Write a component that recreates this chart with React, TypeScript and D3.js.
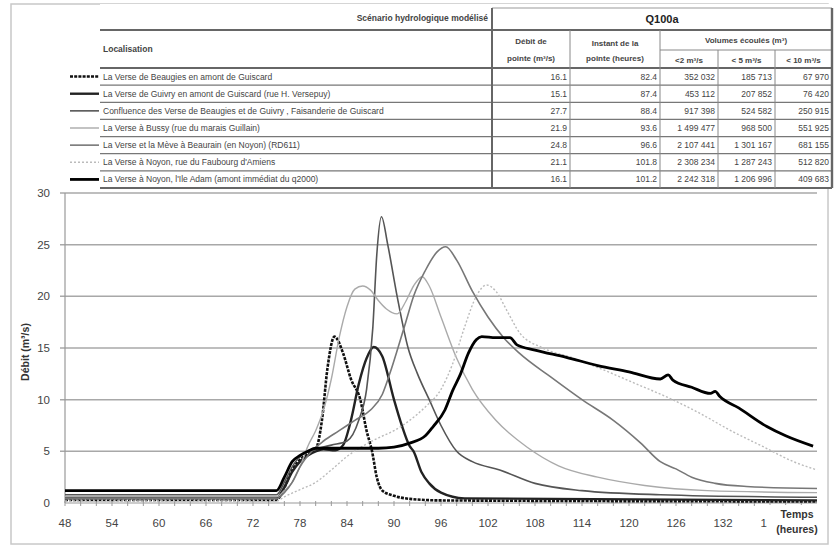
import React, { useEffect, useRef } from 'react';
import * as d3 from 'd3';

type Pt = [number, number];

// series (hours, m3/s)
const beaugies: Pt[] = [[48,0.3],[75,0.3],[76,1.5],[77,3.2],[78,4.2],[79,4.8],[80,5.2],[80.8,8],[81.5,13],[82.4,16.1],[83.5,14.5],[84.5,12],[85.7,10],[86.5,7],[87.2,5],[87.8,2.5],[88.5,1.2],[90,0.7],[92,0.4],[96,0.25],[144,0.15]];
const guivry: Pt[] = [[48,0.5],[75,0.5],[76,1.5],[77,3],[78,4],[79,4.6],[80,5],[81,5.2],[82.5,5.1],[83.5,5.6],[84.5,8],[85.5,11.5],[86.5,14],[87.4,15.1],[88.5,14.2],[90,10],[91,7.5],[92,5.5],[92.5,5],[93.5,3],[94.5,1.9],[96,1],[99,0.45],[144,0.25]];
const confluence: Pt[] = [[48,0.8],[75,0.8],[76,2],[77,3.5],[78,4.5],[80,5.2],[82,5.6],[84,6],[85.5,8],[86.5,11],[87.3,17],[87.8,24],[88.4,27.7],[89.2,25],[90.4,20],[91.8,15],[93,12.5],[94.5,10],[96,7.5],[98,5],[100,4],[103.5,3.2],[108,1.9],[114,1.2],[124,0.8],[144,0.55]];
const bussy: Pt[] = [[48,0.6],[75,0.6],[76,1.2],[77,2],[78,3.5],[79,5.5],[80,7],[81,9],[82,12],[83,16],[84,19],[85,20.7],[86,21],[87,20.6],[88,19.6],[89,18.8],[90.4,18.3],[91.5,19.5],[92.5,21],[93.6,21.9],[94.5,21],[96,18],[98,14],[100,11],[103,8],[107,5.4],[111,3.6],[116,2.5],[122,1.7],[130,1.2],[144,1]];
const beaurain: Pt[] = [[48,0.4],[75,0.4],[76,1],[77,2],[78,3.5],[79.5,5],[81,6],[83,7],[85,8],[87,9],[88.5,10.5],[89.5,12.6],[90.5,15],[91.5,17.5],[92.5,20],[94,22.5],[95.5,24.3],[96.6,24.8],[98,23.5],[100,20.5],[102,18],[104,16],[106,14.5],[110,12.2],[114,10],[118,8],[121.5,5.8],[124,4],[126,3.3],[128,2.5],[131,1.9],[135,1.6],[144,1.4]];
const faubourg: Pt[] = [[48,0.2],[75,0.2],[76,0.6],[78,1.3],[80,2],[82,3.2],[84,4.5],[86,5.5],[88,6.3],[90,7],[92,8],[94,9.3],[96,11],[97.5,13.5],[99,17],[100.5,20],[101.8,21.1],[103,20.5],[104.5,18.5],[106,16.5],[109,15],[113,14],[117,12.8],[121,11.5],[125,10.2],[129,8.7],[133,7],[137,5.5],[141,4],[144,3.2]];
const ileAdam: Pt[] = [[48,1.2],[75,1.2],[76,2.5],[77,4],[78,4.6],[79,5],[80,5.3],[84,5.3],[88,5.3],[90,5.4],[92,5.8],[94,6.5],[95,7.4],[96.5,9],[97.5,10.9],[98.5,12.5],[99.5,14.5],[100.5,15.8],[101.2,16.1],[103,16],[104.8,16],[105.7,15.3],[108,14.8],[112,14.1],[116,13.3],[120,12.7],[124,12],[125,12.4],[125.6,11.9],[128,11.2],[130.4,10.6],[131,10.8],[131.6,10.3],[134,9.2],[137.6,7.4],[140,6.5],[143.5,5.5]];

const locations = [
  'La Verse de Beaugies en amont de Guiscard',
  'La Verse de Guivry en amont de Guiscard (rue H. Versepuy)',
  'Confluence des Verse de Beaugies et de Guivry , Faisanderie de Guiscard',
  'La Verse à Bussy (rue du marais Guillain)',
  'La Verse et la Mève à Beaurain (en Noyon) (RD611)',
  "La Verse à Noyon, rue du Faubourg d'Amiens",
  "La Verse à Noyon, l'Ile Adam (amont immédiat du q2000)",
];
const peakFlow = ['16.1', '15.1', '27.7', '21.9', '24.8', '21.1', '16.1'];
const peakTime = ['82.4', '87.4', '88.4', '93.6', '96.6', '101.8', '101.2'];
const vol2 = ['352 032', '453 112', '917 398', '1 499 477', '2 107 441', '2 308 234', '2 242 318'];
const vol5 = ['185 713', '207 852', '524 582', '968 500', '1 301 167', '1 287 243', '1 206 996'];
const vol10 = ['67 970', '76 420', '250 915', '551 925', '681 155', '512 820', '409 683'];

const seriesData = [beaugies, guivry, confluence, bussy, beaurain, faubourg, ileAdam];
const xTicks = d3.range(48, 139, 6);
const yTicks = [0, 5, 10, 15, 20, 25, 30];

const styles = [
  { color: '#111', width: 2.6, dash: '3,1.2' },
  { color: '#222', width: 2.4, dash: '' },
  { color: '#555', width: 1.6, dash: '' },
  { color: '#aaa', width: 1.4, dash: '' },
  { color: '#777', width: 1.6, dash: '' },
  { color: '#bbb', width: 1.4, dash: '2,2' },
  { color: '#000', width: 2.8, dash: '' },
];

export default function App() {
  const svgRef = useRef<SVGSVGElement>(null);

  useEffect(() => {
    if (!svgRef.current) return;
    const svg = d3.select(svgRef.current);
    svg.selectAll('*').remove();
    const font = '"Liberation Sans", Arial, sans-serif';

    // outer frame
    svg.append('rect')
      .attr('x', 11).attr('y', 4).attr('width', 817).attr('height', 540)
      .attr('fill', '#fff').attr('stroke', '#c8c8c8').attr('stroke-width', 1.5);

    const x = d3.scaleLinear().domain([48, 144]).range([65, 817]);
    const y = d3.scaleLinear().domain([0, 30]).range([503, 193]);

    // grid
    svg.append('g').selectAll('line').data(yTicks.slice(1)).join('line')
      .attr('x1', 60).attr('x2', 817)
      .attr('y1', d => y(d)).attr('y2', d => y(d))
      .attr('stroke', '#a8a8a8').attr('stroke-width', 1.5);

    // axes
    svg.append('line').attr('x1', x(48)).attr('x2', x(48)).attr('y1', y(30)).attr('y2', y(0))
      .attr('stroke', '#999').attr('stroke-width', 1.2);
    svg.append('line').attr('x1', x(48)).attr('x2', 817).attr('y1', y(0)).attr('y2', y(0))
      .attr('stroke', '#999').attr('stroke-width', 1.2);
    svg.append('g').selectAll('line').data(d3.range(48, 144, 2)).join('line')
      .attr('x1', d => x(d)).attr('x2', d => x(d))
      .attr('y1', y(0) - 2).attr('y2', y(0) + 3)
      .attr('stroke', '#999').attr('stroke-width', 1);

    svg.append('g').selectAll('text').data(yTicks).join('text')
      .attr('x', 50).attr('y', d => y(d) + 4)
      .attr('text-anchor', 'end').attr('font-family', font).attr('font-size', 11.5)
      .attr('fill', '#444').text(d => d);

    svg.append('g').selectAll('text').data(xTicks).join('text')
      .attr('x', d => x(d)).attr('y', 527)
      .attr('text-anchor', 'middle').attr('font-family', font).attr('font-size', 11.5)
      .attr('fill', '#444').text(d => d);

    // series
    const line = d3.line<Pt>()
      .x(d => x(d[0]))
      .y(d => y(d[1]))
      .curve(d3.curveMonotoneX);
    seriesData.forEach((s, i) => {
      svg.append('path')
        .datum(s)
        .attr('fill', 'none')
        .attr('stroke', styles[i].color)
        .attr('stroke-width', styles[i].width)
        .attr('stroke-dasharray', styles[i].dash || null)
        .attr('stroke-linejoin', 'round')
        .attr('d', line);
    });

    // axis titles
    svg.append('text')
      .attr('transform', 'translate(29,352) rotate(-90)')
      .attr('text-anchor', 'middle').attr('font-family', font).attr('font-size', 10.5)
      .attr('font-weight', 'bold').attr('fill', '#333')
      .text('Débit (m³/s)');
    svg.append('rect').attr('x', 767).attr('y', 505).attr('width', 56).attr('height', 34).attr('fill', '#fff');
    const tt = svg.append('text').attr('font-family', font).attr('font-size', 10.5)
      .attr('font-weight', 'bold').attr('fill', '#333').attr('text-anchor', 'middle');
    tt.append('tspan').attr('x', 797).attr('y', 518).text('Temps');
    tt.append('tspan').attr('x', 797).attr('y', 533).text('(heures)');

    // table
    const tbl = svg.append('g').attr('font-family', font).attr('fill', '#444');
    tbl.append('rect').attr('x', 100).attr('y', 4).attr('width', 732).attr('height', 184).attr('fill', '#fff');
    const cols = [100, 492, 570, 660, 718, 775, 832];
    const rowTop = 68;
    const rowH = (188 - 68) / 7;
    const ln = (x1: number, y1: number, x2: number, y2: number, w: number, c = '#666') =>
      tbl.append('line').attr('x1', x1).attr('y1', y1).attr('x2', x2).attr('y2', y2)
        .attr('stroke', c).attr('stroke-width', w);

    ln(100, 30, 832, 30, 2.2);
    ln(100, 68, 832, 68, 2.2);
    ln(100, 188, 832, 188, 2.2);
    ln(492, 8, 832, 8, 1, '#999');
    ln(660, 50, 832, 50, 1, '#888');
    for (let i = 1; i < 7; i++) ln(100, rowTop + i * rowH, 832, rowTop + i * rowH, 1.2, '#777');
    ln(492, 8, 492, 188, 2);
    ln(832, 8, 832, 188, 2.4);
    [570, 660].forEach(c => ln(c, 30, c, 188, 1, '#888'));
    [718, 775].forEach(c => ln(c, 50, c, 188, 1, '#888'));

    tbl.append('text').attr('x', 488).attr('y', 21).attr('text-anchor', 'end')
      .attr('font-size', 8.5).attr('font-weight', 'bold').text('Scénario hydrologique modélisé');
    tbl.append('text').attr('x', 662).attr('y', 23).attr('text-anchor', 'middle')
      .attr('font-size', 11).attr('font-weight', 'bold').attr('fill', '#222').text('Q100a');
    tbl.append('text').attr('x', 103).attr('y', 52).attr('font-size', 8.5).attr('font-weight', 'bold').text('Localisation');

    const hdr = (cx: number, yy: number, t: string) =>
      tbl.append('text').attr('x', cx).attr('y', yy).attr('text-anchor', 'middle')
        .attr('font-size', 8).attr('font-weight', 'bold').text(t);
    hdr((492 + 570) / 2, 44, 'Débit de');
    hdr((492 + 570) / 2, 61, 'pointe (m³/s)');
    hdr((570 + 660) / 2, 46, 'Instant de la');
    hdr((570 + 660) / 2, 61, 'pointe (heures)');
    hdr((660 + 832) / 2, 43, 'Volumes écoulés (m³)');
    hdr((660 + 718) / 2, 63, '<2 m³/s');
    hdr((718 + 775) / 2, 63, '< 5 m³/s');
    hdr((775 + 832) / 2, 63, '< 10 m³/s');

    const cells = [peakFlow, peakTime, vol2, vol5, vol10];
    locations.forEach((loc, i) => {
      const cy = rowTop + i * rowH + rowH / 2 + 3;
      tbl.append('text').attr('x', 103).attr('y', cy).attr('font-size', 8.5).text(loc);
      cells.forEach((col, j) => {
        tbl.append('text').attr('x', cols[j + 2] - 3).attr('y', cy).attr('text-anchor', 'end')
          .attr('font-size', 8.5).text(col[i]);
      });
      // legend sample
      svg.append('line')
        .attr('x1', 70).attr('x2', 99)
        .attr('y1', cy - 3).attr('y2', cy - 3)
        .attr('stroke', styles[i].color)
        .attr('stroke-width', styles[i].width)
        .attr('stroke-dasharray', styles[i].dash || null);
    });
  }, []);

  return (
    <div style={{ position: 'absolute', left: 0, top: 0 }}>
      <svg ref={svgRef} width={836} height={548} style={{ display: 'block' }} />
    </div>
  );
}
